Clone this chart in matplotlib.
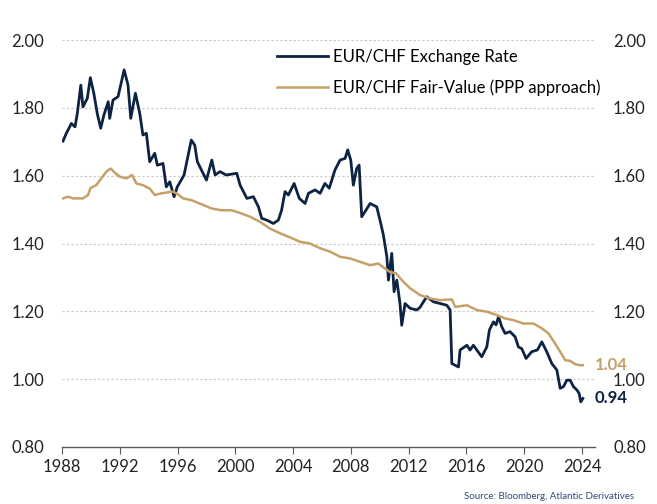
import matplotlib.pyplot as plt
import numpy as np

plt.rcParams['font.family'] = ['Lato', 'DejaVu Sans']

NAVY = "#0c2344"
GOLD = "#c5a068"

# EUR/CHF spot (decimal year, rate)
fx_year = [1988.07, 1988.3, 1988.65, 1988.9, 1989.06, 1989.3, 1989.45, 1989.75, 1989.96,
           1990.2, 1990.45, 1990.68, 1990.9, 1991.2, 1991.3, 1991.53, 1991.88, 1992.3,
           1992.57, 1992.76, 1993.08, 1993.38, 1993.6, 1993.84, 1994.07, 1994.42, 1994.6,
           1994.99, 1995.22, 1995.46, 1995.76, 1995.98, 1996.45, 1996.95, 1997.19, 1997.37,
           1997.65, 1998.0, 1998.37, 1998.6, 1998.94, 1999.36, 2000.1, 2000.33, 2000.8,
           2001.25, 2001.6, 2001.83, 2002.18, 2002.63, 2002.98, 2003.2, 2003.44, 2003.67,
           2004.07, 2004.43, 2004.83, 2005.06, 2005.52, 2005.87, 2006.2, 2006.5, 2006.9,
           2007.25, 2007.6, 2007.78, 2007.99, 2008.17, 2008.4, 2008.57, 2008.75, 2008.98,
           2009.33, 2009.79, 2010.07, 2010.25, 2010.49, 2010.6, 2010.83, 2010.99, 2011.18,
           2011.4, 2011.52, 2011.75, 2012.1, 2012.56, 2012.79, 2013.02, 2013.26, 2013.72,
           2014.18, 2014.64, 2014.87, 2014.99, 2015.22, 2015.45, 2015.56, 2016.03, 2016.25,
           2016.48, 2017.06, 2017.41, 2017.59, 2017.87, 2018.05, 2018.22, 2018.45, 2018.68,
           2019.02, 2019.37, 2019.6, 2019.83, 2020.13, 2020.52, 2020.91, 2021.22, 2021.56,
           2021.91, 2022.26, 2022.49, 2022.72, 2022.95, 2023.18, 2023.41, 2023.65, 2023.8,
           2023.92, 2024.06]
fx_rate = [1.702, 1.725, 1.754, 1.744, 1.784, 1.867, 1.803, 1.828, 1.889,
           1.843, 1.781, 1.740, 1.779, 1.818, 1.769, 1.823, 1.833, 1.912,
           1.867, 1.769, 1.843, 1.784, 1.720, 1.725, 1.641, 1.666, 1.631,
           1.636, 1.567, 1.582, 1.538, 1.567, 1.602, 1.705, 1.690, 1.641,
           1.617, 1.587, 1.646, 1.602, 1.612, 1.602, 1.607, 1.572, 1.533,
           1.538, 1.508, 1.474, 1.469, 1.459, 1.469, 1.498, 1.553, 1.543,
           1.577, 1.533, 1.518, 1.548, 1.558, 1.548, 1.577, 1.563, 1.617,
           1.646, 1.651, 1.676, 1.646, 1.572, 1.621, 1.631, 1.479, 1.494,
           1.518, 1.508, 1.459, 1.425, 1.361, 1.292, 1.371, 1.258, 1.292,
           1.223, 1.159, 1.223, 1.209, 1.204, 1.212, 1.228, 1.243, 1.228,
           1.223, 1.218, 1.204, 1.046, 1.041, 1.036, 1.086, 1.100, 1.086,
           1.100, 1.066, 1.095, 1.145, 1.169, 1.160, 1.184, 1.154, 1.135,
           1.140, 1.125, 1.095, 1.090, 1.061, 1.081, 1.086, 1.110, 1.081,
           1.046, 1.027, 0.973, 0.978, 0.997, 0.997, 0.978, 0.968, 0.958,
           0.933, 0.943]

# PPP fair value
fv_year = [1988.07, 1988.4, 1988.76, 1989.45, 1989.8, 1989.98, 1990.37, 1990.72, 1991.07,
           1991.37, 1991.7, 1992.0, 1992.46, 1992.85, 1993.15, 1993.6, 1994.07, 1994.42,
           1994.88, 1995.34, 1995.69, 1996.03, 1996.38, 1996.95, 1997.53, 1998.37, 1999.06,
           1999.75, 2000.33, 2001.02, 2001.71, 2002.4, 2003.1, 2003.79, 2004.48, 2005.17,
           2005.87, 2006.56, 2007.25, 2007.94, 2008.64, 2009.33, 2009.9, 2010.37, 2010.71,
           2011.13, 2011.52, 2012.1, 2012.79, 2013.48, 2014.18, 2014.99, 2015.22, 2016.03,
           2016.71, 2017.41, 2018.1, 2018.68, 2019.25, 2019.95, 2020.64, 2021.22, 2021.68,
           2022.14, 2022.49, 2022.84, 2023.18, 2023.53, 2023.87, 2024.06]
fv_rate = [1.533, 1.538, 1.533, 1.533, 1.543, 1.564, 1.572, 1.592, 1.612,
           1.621, 1.607, 1.597, 1.592, 1.602, 1.577, 1.572, 1.562, 1.543,
           1.548, 1.551, 1.553, 1.545, 1.533, 1.528, 1.518, 1.503, 1.498,
           1.498, 1.490, 1.479, 1.464, 1.444, 1.430, 1.418, 1.405, 1.400,
           1.386, 1.376, 1.361, 1.356, 1.346, 1.336, 1.341, 1.326, 1.316,
           1.312, 1.292, 1.268, 1.248, 1.238, 1.233, 1.235, 1.213, 1.218,
           1.204, 1.199, 1.189, 1.179, 1.174, 1.164, 1.164, 1.150, 1.135,
           1.105, 1.081, 1.056, 1.054, 1.044, 1.041, 1.041]

years = np.arange(1988, 2025, 4)
yticks = np.arange(0.8, 2.01, 0.2)

fig = plt.figure(figsize=(6.57, 5.04), dpi=100)
ax = fig.add_axes([0.0944, 0.1131, 0.8112, 0.8075])

for y in yticks[1:]:
    ax.axhline(y, color="#c8c8c8", lw=0.8, ls=(0, (2, 2)), zorder=0)

ax.plot(fx_year, fx_rate, color=NAVY, lw=2.0, label="EUR/CHF Exchange Rate")
ax.plot(fv_year, fv_rate, color=GOLD, lw=1.8, label="EUR/CHF Fair-Value (PPP approach)")

ax.set_xlim(1988, 2024.9)
ax.set_ylim(0.8, 2.0)
ax.set_xticks(years)
ax.set_yticks(yticks)
ax.set_yticklabels([f"{v:.2f}" for v in yticks])

for side in ["top", "right", "left"]:
    ax.spines[side].set_visible(False)
ax.spines["bottom"].set_color("#595959")
ax.spines["bottom"].set_linewidth(1.0)
ax.tick_params(axis="x", direction="out", length=5, color="#595959", labelsize=12,
               labelcolor="#222222", pad=4)
ax.tick_params(axis="y", length=0, labelsize=12, labelcolor="#222222", pad=13,
               labelright=True, right=False)

ax.text(2024.9, fv_rate[-1], f"{fv_rate[-1]:.2f}", color=GOLD, fontsize=12,
        fontweight="bold", va="center", ha="left")
ax.text(2024.9, fx_rate[-1], f"{fx_rate[-1]:.2f}", color=NAVY, fontsize=12,
        fontweight="bold", va="center", ha="left")

ax.legend(loc="upper left", bbox_to_anchor=(0.39, 0.995), frameon=False, fontsize=12,
          handlelength=3.1, handletextpad=0.3, labelspacing=0.9, borderaxespad=0)

fig.text(0.965, 0.005, "Source: Bloomberg, Atlantic Derivatives", color="#2f4a7a",
         fontsize=7, ha="right", va="bottom")

fig.savefig("out.png", dpi=100)
